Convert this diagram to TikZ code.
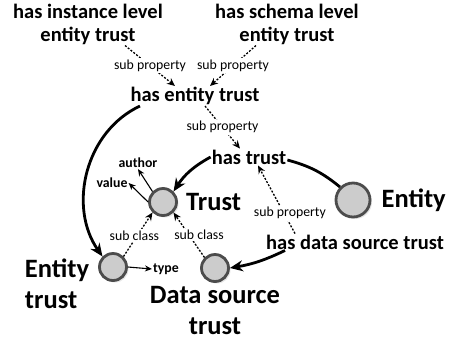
\documentclass[tikz,border=0pt]{standalone}
\usepackage{fontspec}
\setmainfont{Carlito}
\usepackage{tikz}
\usetikzlibrary{arrows.meta, positioning, shadows}

\begin{document}
\begin{tikzpicture}[x=1pt, y=1pt,
        prop/.style={font=\fontsize{20.5}{23}\selectfont\bfseries, align=center, inner sep=1pt},
        cname/.style={font=\fontsize{26.5}{31}\selectfont\bfseries, align=center, inner sep=1pt},
        sublabel/.style={font=\fontsize{13.8}{16}\selectfont, fill=white, inner sep=1.5pt},
        attr/.style={font=\fontsize{13.8}{16}\selectfont\bfseries, inner sep=1pt},
        cls/.style={circle, draw=black!70, line width=2.8pt, fill=black!20, inner sep=0pt,
            drop shadow={opacity=0.2, shadow xshift=2pt, shadow yshift=-2pt}},
        thickarrow/.style={-{Stealth[length=13pt, width=11pt]}, line width=2.8pt},
        thickline/.style={line width=2.8pt},
        subarrow/.style={-{Stealth[length=8pt, width=7pt]}, line width=1.3pt, dash pattern=on 2pt off 1.6pt},
        attrarrow/.style={-{Stealth[length=7pt, width=6pt]}, line width=1.1pt}
    ]
        \useasboundingbox (0,0) rectangle (450,-349);

        % Properties
        \node[prop] (hasInst) at (88,-24) {has instance level\\entity trust};
        \node[prop] (hasSchema) at (287,-24) {has schema level\\entity trust};
        \node[prop] (hasEntTrust) at (195,-96) {has entity trust};
        \node[prop] (hasTrust) at (249,-157) {has trust};
        \node[prop] (hasDSTrust) at (355,-242) {has data source trust};

        % Classes
        \node[cls, minimum size=27pt] (trust) at (163,-202) {};
        \node[cname, right=7pt of trust] (trustlbl) {Trust};
        \node[cls, minimum size=34pt] (entity) at (353,-200) {};
        \node[cname, right=9pt of entity] (entitylbl) {Entity};
        \node[cls, minimum size=27pt] (entTrust) at (113,-267) {};
        \node[cname, align=left] (entTrustlbl) at (57,-284) {Entity\\trust};
        \node[cls, minimum size=27pt] (dsTrust) at (215,-268) {};
        \node[cname, below=2pt of dsTrust] (dsTrustlbl) {Data source\\trust};

        % Attributes
        \node[attr] (author) at (138,-163) {author};
        \node[attr] (value) at (112,-183) {value};
        \node[attr] (type) at (166,-269) {type};

        % Sub properties
        \draw[subarrow] ([xshift=37pt]hasInst.south) -- node[sublabel] {sub property} ([xshift=-20pt]hasEntTrust.north);
        \draw[subarrow] ([xshift=-31pt]hasSchema.south) -- node[sublabel] {sub property} ([xshift=15pt]hasEntTrust.north);
        \draw[subarrow] ([xshift=10pt]hasEntTrust.south) -- node[sublabel] {sub property} ([xshift=-9pt]hasTrust.north);
        \draw[subarrow] ([xshift=-60pt]hasDSTrust.north) -- node[sublabel, pos=0.3, xshift=6pt] {sub property} ([xshift=9pt]hasTrust.south);

        % Sub classes
        \draw[subarrow] (entTrust.north east) -- node[sublabel, pos=0.48, xshift=-3pt] {sub class} (trust.south west);
        \draw[subarrow] (dsTrust.north west) -- node[sublabel, pos=0.5, xshift=10pt] {sub class} (trust.south east);

        % Attribute arrows
        \draw[attrarrow] (trust.north west) -- (author.south);
        \draw[attrarrow] (trust.west) -- (value.east);
        \draw[attrarrow] (entTrust.east) -- (type.west);

        % Domains and ranges
        \draw[thickarrow] (hasTrust.west) to[bend right=14] (trust.north east);
        \draw[thickline] (entity.north west) to[bend right=12] ([yshift=-3pt]hasTrust.east);
        \draw[thickarrow] ([xshift=-70pt]hasDSTrust.south) to[bend left=8] (dsTrust.east);
        \draw[thickarrow] ([xshift=-55pt]hasEntTrust.south) to[out=205, in=125] (entTrust.north west);

    \end{tikzpicture}
\end{document}
